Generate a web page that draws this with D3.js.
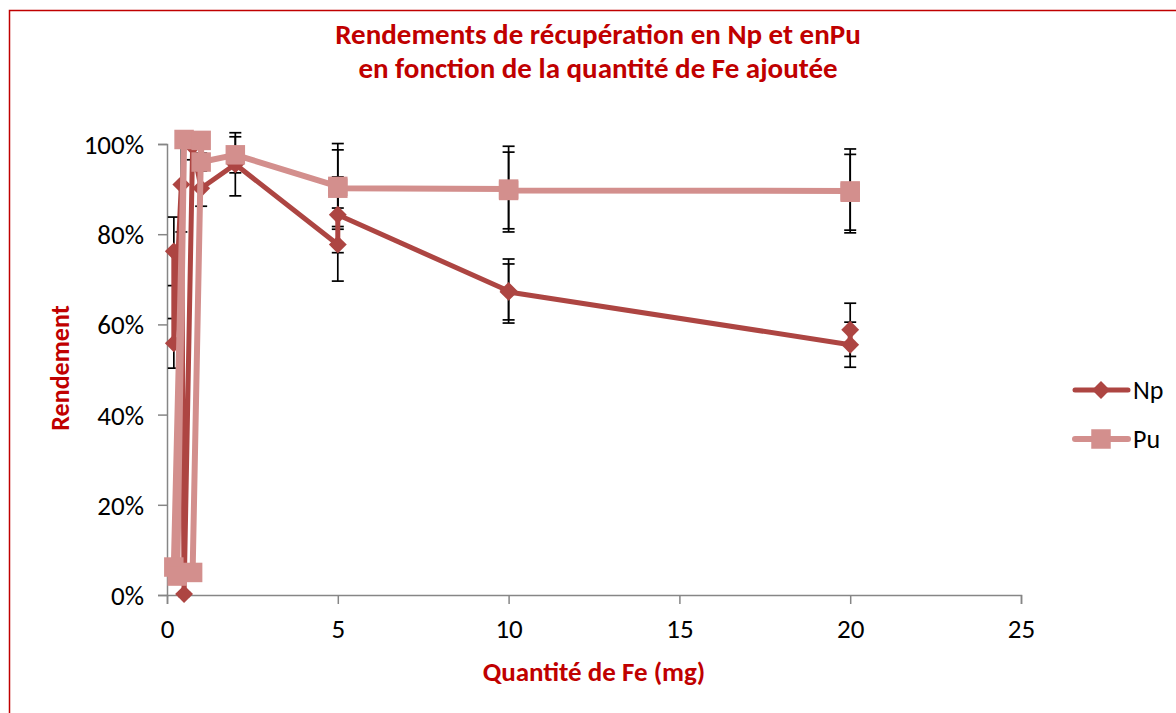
<!DOCTYPE html>
<html>
<head>
<meta charset="utf-8">
<script src="https://cdn.jsdelivr.net/npm/d3@7"></script>
<style>
  html, body { margin: 0; padding: 0; background: #fff; }
  svg { display: block; }
  text { font-family: Carlito, Lato, "Open Sans", sans-serif; }
</style>
</head>
<body>
<svg id="chart" width="1176" height="713"></svg>
<script>
// Fe added (mg) and recovery yields, in measurement order
const npFe    = [0.2, 0.2, 0.42, 0.5, 0.75, 1, 2, 5, 5, 10, 10, 20, 20];
const npYield = [0.762, 0.558, 0.91, 0.002, 0.995, 0.902, 0.955, 0.777, 0.843, 0.674, 0.672, 0.555, 0.588];
const npErr   = [0.076, 0.055, 0.105, 0.005, 0.03, 0.04, 0.07, 0.081, 0.084, 0.071, 0.062, 0.05, 0.059];

const puFe    = [0.2, 0.5, 0.3, 0.75, 1, 1, 2, 5, 5, 10, 10, 20, 20];
const puYield = [0.062, 1.01, 0.042, 0.05, 1.008, 0.96, 0.976, 0.906, 0.902, 0.90, 0.897, 0.896, 0.893];
const puErr   = [0.01, 0.01, 0.01, 0.01, 0.01, 0.02, 0.04, 0.095, 0.085, 0.095, 0.085, 0.093, 0.084];

const xTicks = [0, 5, 10, 15, 20, 25];
const yTicks = [0, 0.2, 0.4, 0.6, 0.8, 1.0];

const titleLines = ["Rendements de récupération en Np et enPu", "en fonction de la quantité de Fe ajoutée"];
const xTitle = "Quantité de Fe (mg)";
const yTitle = "Rendement";
const seriesNames = ["Np", "Pu"];

const red = "#C00000";
const npColor = "#AD4542";
const puColor = "#D38F8D";

const svg = d3.select("#chart");

// chart frame
svg.append("rect")
  .attr("x", 9.5).attr("y", 10.5)
  .attr("width", 1180).attr("height", 720)
  .attr("fill", "#fff").attr("stroke", red).attr("stroke-width", 1.5);

const x = d3.scaleLinear().domain([0, 25]).range([167, 1021]);
const y = d3.scaleLinear().domain([0, 1]).range([595, 144]);

// axes
const xAxis = svg.append("g")
  .attr("transform", `translate(0,${y(0)})`)
  .call(d3.axisBottom(x).tickValues(xTicks).tickSize(9).tickPadding(15).tickFormat(d3.format("d")));
const yAxis = svg.append("g")
  .attr("transform", `translate(${x(0)},0)`)
  .call(d3.axisLeft(y).tickValues(yTicks).tickSize(9).tickPadding(14).tickFormat(d3.format(".0%")));
[xAxis, yAxis].forEach(g => {
  g.select(".domain").attr("stroke", "#868686").attr("stroke-width", 1.5);
  g.selectAll(".tick line").attr("stroke", "#868686").attr("stroke-width", 1.5);
  g.selectAll(".tick text").attr("fill", "#000").style("font-size", "27px")
   .style("font-family", "Carlito, Lato, sans-serif");
});
xAxis.selectAll(".tick text").attr("dy", "0.71em");
yAxis.selectAll(".tick text").attr("dy", "0.35em");

const npData = npFe.map((v, i) => ({ x: v, y: npYield[i], e: npErr[i] }));
const puData = puFe.map((v, i) => ({ x: v, y: puYield[i], e: puErr[i] }));

// error bars
function errorBars(data) {
  const g = svg.append("g").attr("stroke", "#000").attr("stroke-width", 1.7);
  data.forEach(d => {
    const cx = x(d.x), y1 = y(d.y + d.e), y2 = y(d.y - d.e);
    g.append("line").attr("x1", cx).attr("x2", cx).attr("y1", y1).attr("y2", y2);
    g.append("line").attr("x1", cx - 6).attr("x2", cx + 6).attr("y1", y1).attr("y2", y1);
    g.append("line").attr("x1", cx - 6).attr("x2", cx + 6).attr("y1", y2).attr("y2", y2);
  });
}
errorBars(npData);
errorBars(puData);

const line = d3.line().x(d => x(d.x)).y(d => y(d.y));
const diamond = d3.symbol().type(d3.symbolSquare).size(160);
const square = d3.symbol().type(d3.symbolSquare).size(380);

// Np series
svg.append("path").datum(npData).attr("d", line)
  .attr("fill", "none").attr("stroke", npColor).attr("stroke-width", 5).attr("stroke-linejoin", "round");
svg.append("g").selectAll("path").data(npData).join("path")
  .attr("d", diamond)
  .attr("transform", d => `translate(${x(d.x)},${y(d.y)}) rotate(45)`)
  .attr("fill", npColor);

// Pu series
svg.append("path").datum(puData).attr("d", line)
  .attr("fill", "none").attr("stroke", puColor).attr("stroke-width", 6).attr("stroke-linejoin", "round");
svg.append("g").selectAll("path").data(puData).join("path")
  .attr("d", square)
  .attr("transform", d => `translate(${x(d.x)},${y(d.y)})`)
  .attr("fill", puColor);

// titles
svg.append("g").selectAll("text").data(titleLines).join("text")
  .attr("x", 598).attr("y", (d, i) => 44 + i * 34)
  .attr("text-anchor", "middle")
  .attr("fill", red).style("font-weight", "bold").style("font-size", "29px")
  .text(d => d);

svg.append("text")
  .attr("x", 594).attr("y", 681)
  .attr("text-anchor", "middle")
  .attr("fill", red).style("font-weight", "bold").style("font-size", "27px")
  .text(xTitle);

svg.append("text")
  .attr("transform", "translate(69,368) rotate(-90)")
  .attr("text-anchor", "middle")
  .attr("fill", red).style("font-weight", "bold").style("font-size", "26px")
  .text(yTitle);

// legend
const legend = svg.append("g");
[[npColor, 5, diamond, true], [puColor, 6, square, false]].forEach(([c, w, sym, rot], i) => {
  const ly = 390 + i * 49;
  legend.append("line").attr("x1", 1075).attr("x2", 1128).attr("y1", ly).attr("y2", ly)
    .attr("stroke", c).attr("stroke-width", w).attr("stroke-linecap", "round");
  legend.append("path").attr("d", sym)
    .attr("transform", `translate(1101,${ly})${rot ? " rotate(45)" : ""}`).attr("fill", c);
  legend.append("text").attr("x", 1133).attr("y", ly).attr("dy", "0.35em")
    .attr("fill", "#000").style("font-size", "26px").text(seriesNames[i]);
});
</script>
</body>
</html>
